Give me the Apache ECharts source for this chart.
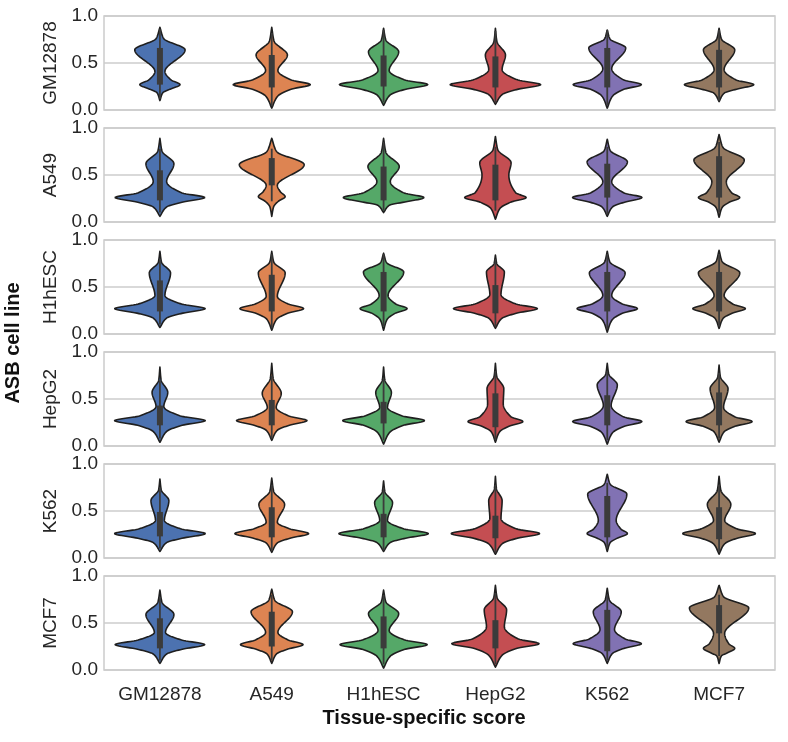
<!DOCTYPE html>
<html><head><meta charset="utf-8">
<script src="https://cdn.jsdelivr.net/npm/echarts@6/dist/echarts.min.js"></script>
<style>html,body{margin:0;padding:0;background:#fff}#c{width:788px;height:742px}</style>
</head><body><div id="c"></div><script>
// Columns (x categories) and rows (ASB cell lines)
const categories = ['GM12878', 'A549', 'H1hESC', 'HepG2', 'K562', 'MCF7'];
const rowNames = ['GM12878', 'A549', 'H1hESC', 'HepG2', 'K562', 'MCF7'];
const yTicks = ['0.0', '0.5', '1.0'];
const xTitle = 'Tissue-specific score';
const yTitle = 'ASB cell line';
const palette = ['#4C72B0', '#DD8452', '#55A868', '#C44E52', '#8172B3', '#937860'];

// Violin outline per cell: [lowTip, lowerModeY, lowerModeWidth, neckY, neckWidth, upperModeY, upperModeWidth, highTip]
// widths are full violin width as a fraction of the category band
// Box per cell: [whiskerLow, q1, q3, whiskerHigh]
const GM12878_shape = [
  [0.10, 0.27, 0.36, 0.41, 0.09, 0.64, 0.45, 0.88],
  [0.02, 0.27, 0.69, 0.42, 0.11, 0.585, 0.28, 0.88],
  [0.05, 0.27, 0.79, 0.42, 0.10, 0.62, 0.27, 0.87],
  [0.06, 0.27, 0.81, 0.43, 0.12, 0.585, 0.18, 0.87],
  [0.02, 0.27, 0.61, 0.44, 0.08, 0.66, 0.33, 0.85],
  [0.09, 0.27, 0.62, 0.43, 0.09, 0.64, 0.28, 0.87]
];
const GM12878_box = [
  [0.12, 0.27, 0.66, 0.86], [0.04, 0.24, 0.585, 0.82], [0.08, 0.25, 0.58, 0.85],
  [0.08, 0.24, 0.57, 0.84], [0.05, 0.24, 0.66, 0.85], [0.10, 0.24, 0.64, 0.85]
];
const A549_shape = [
  [0.06, 0.26, 0.80, 0.43, 0.12, 0.62, 0.25, 0.89],
  [0.06, 0.27, 0.24, 0.39, 0.10, 0.61, 0.58, 0.89],
  [0.10, 0.26, 0.72, 0.43, 0.12, 0.59, 0.28, 0.89],
  [0.03, 0.26, 0.55, 0.50, 0.24, 0.63, 0.28, 0.91],
  [0.06, 0.26, 0.62, 0.43, 0.08, 0.64, 0.36, 0.88],
  [0.05, 0.26, 0.37, 0.43, 0.13, 0.66, 0.45, 0.93]
];
const A549_box = [
  [0.10, 0.23, 0.55, 0.78], [0.22, 0.39, 0.68, 0.78], [0.12, 0.23, 0.59, 0.85],
  [0.12, 0.23, 0.61, 0.80], [0.08, 0.26, 0.62, 0.80], [0.10, 0.26, 0.70, 0.85]
];
const H1hESC_shape = [
  [0.07, 0.27, 0.81, 0.41, 0.09, 0.65, 0.19, 0.88],
  [0.04, 0.27, 0.57, 0.40, 0.10, 0.65, 0.24, 0.88],
  [0.04, 0.27, 0.42, 0.41, 0.08, 0.66, 0.36, 0.86],
  [0.06, 0.27, 0.75, 0.42, 0.10, 0.66, 0.16, 0.84],
  [0.02, 0.27, 0.54, 0.41, 0.08, 0.65, 0.32, 0.88],
  [0.06, 0.27, 0.47, 0.41, 0.09, 0.65, 0.37, 0.89]
];
const H1hESC_box = [
  [0.10, 0.24, 0.57, 0.80], [0.06, 0.24, 0.63, 0.85], [0.08, 0.24, 0.66, 0.85],
  [0.08, 0.22, 0.52, 0.80], [0.05, 0.24, 0.66, 0.85], [0.08, 0.24, 0.66, 0.85]
];
const HepG2_shape = [
  [0.04, 0.27, 0.81, 0.42, 0.07, 0.57, 0.14, 0.84],
  [0.06, 0.27, 0.63, 0.41, 0.08, 0.56, 0.17, 0.88],
  [0.02, 0.27, 0.73, 0.41, 0.07, 0.57, 0.14, 0.84],
  [0.04, 0.26, 0.49, 0.45, 0.14, 0.61, 0.15, 0.88],
  [0.02, 0.26, 0.62, 0.43, 0.07, 0.65, 0.18, 0.88],
  [0.04, 0.26, 0.59, 0.41, 0.08, 0.61, 0.16, 0.86]
];
const HepG2_box = [
  [0.08, 0.22, 0.43, 0.70], [0.08, 0.22, 0.49, 0.75], [0.06, 0.24, 0.47, 0.72],
  [0.06, 0.20, 0.56, 0.80], [0.06, 0.22, 0.54, 0.80], [0.08, 0.22, 0.57, 0.78]
];
const K562_shape = [
  [0.07, 0.26, 0.81, 0.40, 0.08, 0.61, 0.16, 0.84],
  [0.06, 0.26, 0.66, 0.38, 0.10, 0.57, 0.23, 0.85],
  [0.07, 0.26, 0.80, 0.40, 0.07, 0.59, 0.16, 0.82],
  [0.04, 0.26, 0.79, 0.42, 0.10, 0.61, 0.12, 0.87],
  [0.07, 0.26, 0.36, 0.40, 0.16, 0.68, 0.35, 0.89],
  [0.04, 0.26, 0.65, 0.40, 0.10, 0.57, 0.21, 0.87]
];
const K562_box = [
  [0.10, 0.23, 0.49, 0.75], [0.08, 0.22, 0.54, 0.78], [0.08, 0.22, 0.47, 0.75],
  [0.06, 0.21, 0.45, 0.78], [0.10, 0.22, 0.66, 0.80], [0.06, 0.20, 0.54, 0.78]
];
const MCF7_shape = [
  [0.07, 0.27, 0.80, 0.40, 0.10, 0.59, 0.25, 0.85],
  [0.07, 0.27, 0.56, 0.40, 0.11, 0.62, 0.37, 0.86],
  [0.02, 0.27, 0.78, 0.42, 0.10, 0.60, 0.27, 0.85],
  [0.03, 0.28, 0.78, 0.46, 0.16, 0.64, 0.20, 0.90],
  [0.07, 0.28, 0.61, 0.43, 0.13, 0.62, 0.25, 0.87],
  [0.07, 0.23, 0.28, 0.39, 0.10, 0.66, 0.53, 0.90]
];
const MCF7_box = [
  [0.10, 0.23, 0.55, 0.78], [0.10, 0.25, 0.62, 0.80], [0.06, 0.23, 0.57, 0.80],
  [0.06, 0.23, 0.53, 0.82], [0.10, 0.20, 0.64, 0.80], [0.15, 0.39, 0.69, 0.80]
];

const rowShapes = [GM12878_shape, A549_shape, H1hESC_shape, HepG2_shape, K562_shape, MCF7_shape];
const rowBoxes = [GM12878_box, A549_box, H1hESC_box, HepG2_box, K562_box, MCF7_box];

const FONT = '"Liberation Sans", Arial, Helvetica, sans-serif';
const TXT = '#262626';

function monotone(xs, ys) {
  const n = xs.length, h = [], d = [], m = new Array(n);
  for (let i = 0; i < n - 1; i++) { h[i] = xs[i + 1] - xs[i]; d[i] = (ys[i + 1] - ys[i]) / h[i]; }
  m[0] = d[0]; m[n - 1] = d[n - 2];
  for (let i = 1; i < n - 1; i++) {
    if (d[i - 1] * d[i] <= 0) m[i] = 0;
    else {
      const w1 = 2 * h[i] + h[i - 1], w2 = h[i] + 2 * h[i - 1];
      m[i] = (w1 + w2) / (w1 / d[i - 1] + w2 / d[i]);
    }
  }
  return function (x) {
    let i = 0;
    while (i < n - 2 && x > xs[i + 1]) i++;
    const t = Math.min(1, Math.max(0, (x - xs[i]) / h[i]));
    const t2 = t * t, t3 = t2 * t;
    return (2 * t3 - 3 * t2 + 1) * ys[i] + (t3 - 2 * t2 + t) * h[i] * m[i] +
      (-2 * t3 + 3 * t2) * ys[i + 1] + (t3 - t2) * h[i] * m[i + 1];
  };
}

function renderViolin(params, api) {
  const ci = api.value(0);
  const lo = api.value(1), yL = api.value(2), wL = api.value(3), yN = api.value(4),
    wN = api.value(5), yU = api.value(6), wU = api.value(7), hi = api.value(8);
  const bLo = api.value(9), q1 = api.value(10), q3 = api.value(11), bHi = api.value(12);
  const band = api.size([1, 0])[0];
  // smoothing knots: thin tails at the tips, sharp flanks around the lower mode
  const tailL = 0.15 * wL, tailU = 0.15 * wU;
  const ky = [lo, lo + 0.5 * (yL - lo), yL - 0.05, yL, yL + 0.05, yN, yU, hi - 0.5 * (hi - yU), hi];
  const kw = [0, tailL, tailL + 0.4 * (wL - tailL), wL, wN + 0.4 * (wL - wN), wN, wU, tailU, 0];
  const f = monotone(ky, kw);
  const N = 160, right = [], left = [];
  for (let j = 0; j <= N; j++) {
    const y = lo + (hi - lo) * j / N;
    const w = Math.max(0, f(y));
    const p = api.coord([ci, y]);
    const half = w * band / 2;
    right.push([p[0] + half, p[1]]);
    left.unshift([p[0] - half, p[1]]);
  }
  const c = api.coord([ci, 0])[0];
  const pw1 = api.coord([ci, bLo])[1], pw2 = api.coord([ci, bHi])[1];
  const pq1 = api.coord([ci, q1])[1], pq3 = api.coord([ci, q3])[1];
  return {
    type: 'group',
    children: [
      { type: 'polygon', shape: { points: right.concat(left) },
        style: { fill: palette[ci], stroke: '#1f1f1f', lineWidth: 1.6, lineJoin: 'round' } },
      { type: 'line', shape: { x1: c, y1: pw1, x2: c, y2: pw2 },
        style: { stroke: '#3b3b3b', lineWidth: 1.8 } },
      { type: 'line', shape: { x1: c, y1: pq1, x2: c, y2: pq3 },
        style: { stroke: '#3b3b3b', lineWidth: 6, lineCap: 'butt' } }
    ]
  };
}

const grids = [], xAxes = [], yAxes = [], series = [], graphics = [];
for (let r = 0; r < 6; r++) {
  const top = 16 + 112 * r;
  grids.push({ left: 104, right: 13, top: top, height: 94, show: true,
    borderColor: '#cccccc', borderWidth: 1.5, backgroundColor: 'transparent' });
  xAxes.push({ gridIndex: r, type: 'category', data: categories, boundaryGap: true,
    axisLine: { show: false }, axisTick: { show: false }, splitLine: { show: false },
    axisLabel: { show: r === 5, fontSize: 19, color: TXT, fontFamily: FONT, margin: 15 } });
  yAxes.push({ gridIndex: r, type: 'value', min: 0, max: 1, interval: 0.5,
    axisLine: { show: false }, axisTick: { show: false },
    splitLine: { show: true, lineStyle: { color: '#cccccc', width: 1.5 } },
    axisLabel: { fontSize: 19, color: TXT, fontFamily: FONT, margin: 6,
      formatter: function (v) { return yTicks[Math.round(v * 2)]; } } });
  const data = rowShapes[r].map(function (s, i) { return [i].concat(s, rowBoxes[r][i]); });
  series.push({ type: 'custom', xAxisIndex: r, yAxisIndex: r, renderItem: renderViolin,
    data: data, clip: false, silent: true, animation: false,
    encode: { x: 0, y: [1, 8] } });
  graphics.push({ type: 'text', x: 51, y: top + 47, rotation: Math.PI / 2,
    style: { text: rowNames[r], font: '19px ' + FONT, fill: TXT, align: 'center', verticalAlign: 'middle' } });
}
graphics.push({ type: 'text', x: 13, y: 343, rotation: Math.PI / 2,
  style: { text: yTitle, font: 'bold 20px ' + FONT, fill: '#111', align: 'center', verticalAlign: 'middle' } });
graphics.push({ type: 'text', x: 424, y: 718,
  style: { text: xTitle, font: 'bold 20px ' + FONT, fill: '#111', align: 'center', verticalAlign: 'middle' } });

const chart = echarts.init(document.getElementById('c'), null, { renderer: 'canvas' });
chart.setOption({
  animation: false,
  backgroundColor: '#ffffff',
  grid: grids, xAxis: xAxes, yAxis: yAxes, series: series, graphic: graphics
});
</script></body></html>
